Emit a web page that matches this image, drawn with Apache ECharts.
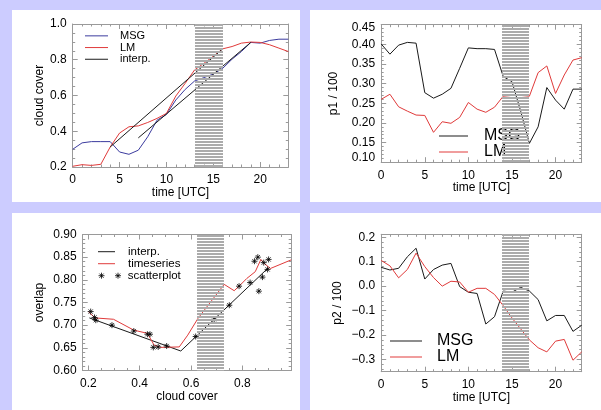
<!DOCTYPE html>
<html><head><meta charset="utf-8">
<script src="https://cdn.jsdelivr.net/npm/echarts@6/dist/echarts.min.js"></script>
<style>html,body{margin:0;padding:0;background:#ccccff;}#c{width:601px;height:410px;}</style>
</head><body><div id="c"></div>
<script>
// ---------- data ----------
const hours = [0,1,2,3,4,5,6,7,8,9,10,11,12,13,14,15,16,17,18,19,20,21,22,23];

// panel 1: cloud cover
const cc_MSG = [0.299,0.335,0.342,0.342,0.342,0.284,0.271,0.294,0.369,0.462,0.494,0.575,0.634,0.681,0.70,0.72,0.752,0.803,0.846,0.897,0.893,0.908,0.915,0.915];
const cc_LM  = [0.204,0.213,0.209,0.215,0.312,0.39,0.425,0.43,0.449,0.472,0.50,0.597,0.668,0.743,0.78,0.82,0.861,0.874,0.893,0.899,0.897,0.884,0.865,0.846];
const cc_interpA_t = [4,16];
const cc_interpA_v = [0.312,0.861];
const cc_interpB_t = [7,19];
const cc_interpB_v = [0.363,0.897];

// panel 2: p1/100
const p1_MSG = [0.401,0.375,0.398,0.405,0.403,0.277,0.263,0.273,0.288,0.339,0.391,0.389,0.389,0.387,0.318,0.305,0.23,0.148,0.19,0.29,0.258,0.235,0.286,0.286];
const p1_LM  = [0.26,0.273,0.241,0.230,0.220,0.219,0.176,0.203,0.199,0.214,0.252,0.235,0.227,0.240,0.268,0.27,0.27,0.268,0.328,0.345,0.275,0.322,0.36,0.366];

// panel 3: overlap vs cloud cover
const ov_ts_x = [0.200,0.226,0.298,0.377,0.430,0.456,0.482,0.554,0.587,0.627,0.729,0.768,0.787,0.817,0.850,0.872,0.885,0.909,0.990];
const ov_ts_y = [0.730,0.716,0.713,0.689,0.682,0.656,0.651,0.652,0.678,0.715,0.790,0.776,0.786,0.803,0.818,0.845,0.836,0.825,0.844];
const ov_interp_x = [0.204,0.560,0.900];
const ov_interp_y = [0.716,0.643,0.826];
const ov_sc_x = [0.209,0.224,0.229,0.292,0.377,0.430,0.440,0.453,0.472,0.505,0.618,0.690,0.749,0.787,0.830,0.847,0.860,0.864,0.878,0.883,0.898,0.902];
const ov_sc_y = [0.730,0.717,0.711,0.700,0.687,0.680,0.680,0.651,0.652,0.654,0.675,0.713,0.744,0.786,0.794,0.841,0.850,0.775,0.806,0.838,0.823,0.845];

// panel 4: p2/100
const p2_MSG = [0.077,0.066,0.073,0.12,0.155,0.029,0.068,0.086,0.093,-0.002,-0.025,-0.03,-0.155,-0.125,-0.02,-0.025,-0.005,-0.02,-0.055,-0.142,-0.12,-0.12,-0.185,-0.16];
const p2_LM  = [0.105,0.083,0.034,0.068,0.135,0.08,0.035,0.0,0.02,0.017,-0.025,-0.009,-0.009,-0.034,-0.08,-0.13,-0.175,-0.22,-0.252,-0.269,-0.225,-0.218,-0.303,-0.269];

// hatched gap bands [x0,x1]
const band1 = [13.1,16.0];
const band2 = [13.9,17.0];
const band3 = [0.623,0.729];
const band4 = [13.9,17.0];

// tick labels
const timeTicks = [0,5,10,15,20];
const ccTicks = [0.2,0.4,0.6,0.8,1.0];
const p1Ticks = [0.10,0.15,0.20,0.25,0.30,0.35,0.40,0.45];
const ovXTicks = [0.2,0.4,0.6,0.8];
const ovYTicks = [0.60,0.65,0.70,0.75,0.80,0.85,0.90];
const p2Ticks = [-0.3,-0.2,-0.1,0.0,0.1,0.2];

// ---------- layout ----------
const FONT = 'Liberation Sans';
const BOX = '#9a9a9a';
const grids = [
  {left:72.7, top:24, width:215.6, height:143},
  {left:381.2, top:24.7, width:200.5, height:137.5},
  {left:82.7, top:234.5, width:208.5, height:136},
  {left:381.2, top:234.3, width:200.5, height:137.4}
];
function range(a,b,s){const r=[];for(let v=a;v<=b+1e-9;v+=s)r.push(+v.toFixed(4));return r;}

const xAxes=[], yAxes=[];
function addAxes(gi, xmin,xmax,ymin,ymax, xMaj,xMin,yMaj,yMin, xLab,yLab, xName,yName, xFmt,yFmt, xNameGap,yNameGap, yRich){
  const mk = (isX, pos, main, maj, minr, lab, name, fmt, nameGap, min, max, rich) => {
    const a = {type:'value', gridIndex:gi, position:pos, min:min, max:max, splitLine:{show:false},
      axisLine:{show:main, onZero:false, lineStyle:{color:BOX,width:1}},
      axisTick:{show:true, inside:true, length: main?5:2.5, customValues: main?maj:minr, lineStyle:{color:BOX,width:1}},
      axisLabel:{show:false}};
    if (main && lab){
      a.axisLabel = {show:true, customValues:lab, color:'#000', fontFamily:FONT, fontSize:12, margin: isX?7:6,
        formatter: fmt, showMinLabel:true, showMaxLabel:true};
      if (rich) a.axisLabel.rich = rich;
      a.name = name; a.nameLocation='middle'; a.nameGap=nameGap;
      a.nameTextStyle={color:'#000', fontFamily:FONT, fontSize:12};
    }
    return a;
  };
  xAxes.push(mk(true,'bottom',true,xMaj,null,xLab,xName,xFmt,xNameGap,xmin,xmax));
  xAxes.push(mk(true,'bottom',false,null,xMin,null,null,null,0,xmin,xmax));
  xAxes.push(mk(true,'top',true,xMaj,null,null,null,null,0,xmin,xmax));
  xAxes.push(mk(true,'top',false,null,xMin,null,null,null,0,xmin,xmax));
  yAxes.push(mk(false,'left',true,yMaj,null,yLab,yName,yFmt,yNameGap,ymin,ymax,yRich));
  yAxes.push(mk(false,'left',false,null,yMin,null,null,null,0,ymin,ymax));
  yAxes.push(mk(false,'right',true,yMaj,null,null,null,null,0,ymin,ymax));
  yAxes.push(mk(false,'right',false,null,yMin,null,null,null,0,ymin,ymax));
}
const f1 = v=>v.toFixed(1), f2=v=>v.toFixed(2), f0=v=>String(Math.round(v));
const fm = v=>(v<0?'\u2212':'')+Math.abs(v).toFixed(1);
// p1 axis: end labels pulled inward like the reference
const fp1 = v=>{const s=v.toFixed(2); if (Math.abs(v-0.10)<1e-6) return '{lo|'+s+'}'; if (Math.abs(v-0.45)<1e-6) return '{hi|'+s+'}'; return s;};
const richP1 = {lo:{fontFamily:FONT,fontSize:12,color:'#000',padding:[0,0,9,0]}, hi:{fontFamily:FONT,fontSize:12,color:'#000',padding:[5,0,0,0]}};

addAxes(0, 0,23,0.2,1.0, timeTicks,range(0,23,1), ccTicks,range(0.2,1.0,0.05), timeTicks,ccTicks,'time [UTC]','cloud cover',f0,f1,19,23);
addAxes(1, 0,23,0.1,0.45, timeTicks,range(0,23,1), p1Ticks,range(0.1,0.45,0.01), timeTicks,p1Ticks,'time [UTC]','p1 / 100',f0,fp1,18,42,richP1);
addAxes(2, 0.178,0.99,0.6,0.9, ovXTicks,range(0.2,0.95,0.05), ovYTicks,range(0.6,0.9,0.01), ovXTicks,ovYTicks,'cloud cover','overlap',f1,f2,18,37);
addAxes(3, 0,23,-0.35,0.212, timeTicks,range(0,23,1), p2Ticks,range(-0.34,0.2,0.02), timeTicks,p2Ticks,'time [UTC]','p2 / 100',f0,fm,18,38);

const pair = (xs,ys)=>xs.map((x,i)=>[x,ys[i]]);
const line = (name, gi, data, color, extra) => Object.assign({name:name, type:'line', xAxisIndex:gi*4, yAxisIndex:gi*4,
  data:data, symbol:'none', silent:true, animation:false, z:2,
  lineStyle:{color:color, width:1}, itemStyle:{color:color}}, extra||{});
const bandSeries = (gi, b, ymin, ymax) => ({type:'custom', xAxisIndex:gi*4, yAxisIndex:gi*4, z:10, silent:true, animation:false,
  data:[[b[0],b[1],ymin,ymax]], clip:false,
  renderItem:function(params, api){
    const p0 = api.coord([api.value(0), api.value(3)]);
    const p1 = api.coord([api.value(1), api.value(2)]);
    const x = Math.round(p0[0]), w = Math.round(p1[0]) - x;
    const top = Math.round(p0[1]), bot = Math.round(p1[1]);
    const ch = [];
    for (let y = top; y < bot; y += 3) ch.push({type:'rect', shape:{x:x, y:y, width:w, height:Math.min(2, bot-y)}, style:{fill:'#ababab'}});
    return {type:'group', children:ch};
  }});

const BLUE='#3b3b9e', RED='#e03a3a', BLK='#1a1a1a';
const ast = 'path://M0,4L8,4M4,0L4,8M1.2,1.2L6.8,6.8M6.8,1.2L1.2,6.8';
const ast2 = 'path://M0,4L8,4M4,0L4,8M1.2,1.2L6.8,6.8M6.8,1.2L1.2,6.8M22,4L30,4M26,0L26,8M23.2,1.2L28.8,6.8M28.8,1.2L23.2,6.8';

const series = [
  line('MSG#1',0,pair(hours,cc_MSG),BLUE),
  line('LM#1',0,pair(hours,cc_LM),RED),
  line('interp.#1',0,pair(cc_interpA_t,cc_interpA_v),BLK),
  line('interp.#1b',0,pair(cc_interpB_t,cc_interpB_v),BLK),
  bandSeries(0,band1,0.2,1.0),

  line('MSG#2',1,pair(hours,p1_MSG),BLK),
  line('LM#2',1,pair(hours,p1_LM),RED),
  bandSeries(1,band2,0.1,0.45),

  line('interp.#3',2,pair(ov_interp_x,ov_interp_y),BLK),
  line('timeseries#3',2,pair(ov_ts_x,ov_ts_y),RED),
  {name:'scatterplot#3', type:'scatter', xAxisIndex:8, yAxisIndex:8, data:pair(ov_sc_x,ov_sc_y), symbol:ast, symbolSize:6,
   silent:true, animation:false, z:3, itemStyle:{color:'#000', borderColor:'#000', borderWidth:1}},
  bandSeries(2,band3,0.6,0.9),

  line('MSG#4',3,pair(hours,p2_MSG),BLK),
  line('LM#4',3,pair(hours,p2_LM),RED),
  bandSeries(3,band4,-0.35,0.212)
];

const lg = (names, left, top, w, fs, pad, lh, icon) => ({orient:'vertical', left:left, top:top, z:1, selectedMode:false,
  data:names.map(n=>icon ? {name:n, icon:icon, itemStyle:{color:'none', borderColor:'#000', borderWidth:1}} : {name:n, icon:'rect'}),
  itemWidth:w, itemHeight:icon?6:1, itemGap:0, padding:0,
  formatter:n=>n.split('#')[0],
  textStyle:{color:'#000', fontFamily:FONT, fontSize:fs, lineHeight:lh, padding:[0,0,0,pad]}});

const option = {
  animation:false,
  backgroundColor:'#ccccff',
  graphic:[
    {type:'rect', shape:{x:12,y:10,width:288,height:192}, style:{fill:'#fff'}, z:-10},
    {type:'rect', shape:{x:310,y:10,width:291,height:192}, style:{fill:'#fff'}, z:-10},
    {type:'rect', shape:{x:12,y:213,width:288,height:197}, style:{fill:'#fff'}, z:-10},
    {type:'rect', shape:{x:310,y:213,width:291,height:197}, style:{fill:'#fff'}, z:-10}
  ],
  grid: grids.map(g=>Object.assign({containLabel:false}, g)),
  xAxis:xAxes, yAxis:yAxes,
  legend:[
    lg(['MSG#1','LM#1','interp.#1'],85,30,23,11,7,11.7),
    lg(['MSG#2','LM#2'],439,128,29,16,11,12.4),
    lg(['interp.#3','timeseries#3'],98,245.7,17,11.5,8,12),
    lg(['scatterplot#3'],96,269.7,30,11.5,-2,12,ast2),
    lg(['MSG#4','LM#4'],390,333,32,16,10,12.4)
  ],
  series:series
};
const chart = echarts.init(document.getElementById('c'), null, {renderer:'canvas'});
chart.setOption(option);
</script></body></html>
